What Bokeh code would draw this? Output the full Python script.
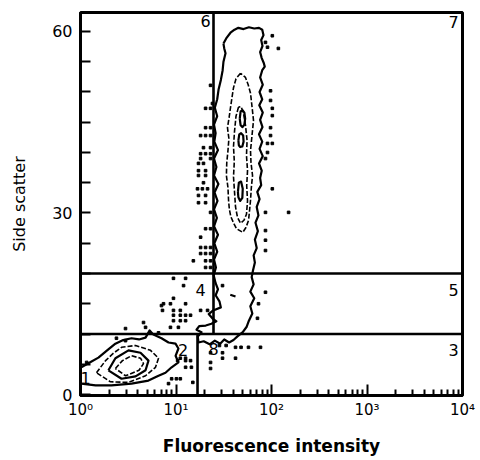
from bokeh.plotting import figure
from bokeh.models import Range1d, FixedTicker
from bokeh.embed import file_html
from bokeh.resources import INLINE
from bokeh.core.properties import value

# ---------------- data ----------------
# gate lines (fluorescence, side scatter)
gate_x0 = [1, 1, 16.8, 24.7]
gate_y0 = [20, 10, 0, 10]
gate_x1 = [10000, 10000, 16.8, 24.7]
gate_y1 = [20, 10, 10, 63.2]

# region numbers
region_text = ["1", "2", "3", "4", "5", "6", "7", "8"]
region_x = [1.13, 11.9, 8050, 18.1, 8050, 20.4, 8050, 24.7]
region_y = [2.8, 7.3, 7.3, 17.2, 17.2, 61.8, 61.5, 7.6]

# upper (tall) population - outer contour
tall_outer_x = [31.4, 34.0, 37.2, 41.0, 45.0, 51.0, 58.0, 66.0, 74.0, 80.0, 82.5, 78.0, 80.5, 76.0,
                79.0, 83.0, 85.0, 80.0, 76.0, 81.0, 75.0, 80.0, 74.5, 81.0, 76.0, 80.5, 74.0, 80.0,
                75.0, 81.0, 74.0, 79.0, 76.0, 78.0, 71.0, 75.0, 70.0, 73.0, 68.0, 72.0, 67.0, 70.0,
                65.0, 67.0, 64.0, 62.0, 65.0, 60.0, 66.0, 60.0, 63.0, 58.0, 55.0, 50.0, 44.0, 40.0,
                36.0, 32.0, 29.0, 25.5, 22.5, 19.5, 17.2, 16.9, 18.5, 16.4, 17.5, 20.5, 23.5, 26.5,
                24.0, 22.0, 24.5, 29.5, 28.5, 26.0, 27.5, 26.0, 24.8, 26.2, 25.0, 27.0, 25.2, 27.5,
                25.0, 26.8, 25.0, 27.2, 25.3, 27.8, 25.0, 26.5, 25.0, 27.5, 25.2, 26.0, 25.0, 27.0,
                25.5, 27.0, 27.9, 29.5, 30.8, 31.4, 33.0, 32.0, 31.4]
tall_outer_y = [58.0, 59.0, 59.8, 60.3, 60.6, 60.4, 60.7, 60.5, 60.6, 60.3, 59.4, 58.6, 57.6, 56.6,
                55.6, 54.8, 54.2, 53.6, 52.4, 51.2, 50.0, 48.8, 47.8, 46.6, 45.4, 44.2, 43.0, 41.8,
                40.6, 39.4, 38.2, 37.0, 35.8, 34.6, 33.5, 32.3, 31.0, 29.6, 28.4, 27.0, 25.6, 24.2,
                23.0, 21.8, 20.5, 19.4, 18.2, 17.0, 15.9, 14.6, 13.4, 12.2, 11.2, 10.3, 9.6, 9.0,
                8.6, 9.1, 8.4, 8.9, 8.3, 8.8, 8.6, 9.6, 10.3, 10.7, 11.3, 11.4, 11.7, 12.1,
                12.6, 13.3, 13.9, 14.4, 15.4, 16.4, 17.4, 18.4, 19.7, 21.0, 22.3, 23.6, 25.0, 26.4,
                27.8, 29.2, 30.6, 32.0, 33.4, 34.8, 36.2, 37.6, 39.0, 40.4, 41.8, 43.2, 44.6, 46.0,
                47.4, 48.8, 50.4, 52.0, 53.6, 55.0, 56.4, 57.2, 58.0]

# upper population - second contour (dashed)
tall_c2_x = [47.4, 42.5, 40.0, 38.5, 37.2, 36.0, 34.6, 35.8, 35.0, 34.0, 33.7, 35.0, 35.5, 36.2,
             37.5, 40.5, 43.0, 50.0, 54.0, 57.5, 59.0, 60.3, 61.5, 63.3, 61.0, 60.3, 62.5, 64.8,
             62.5, 60.3, 57.0, 53.4, 47.4]
tall_c2_y = [53.1, 52.2, 50.7, 49.0, 47.4, 45.8, 44.1, 42.3, 40.3, 38.3, 36.2, 34.2, 32.1, 30.6,
             29.4, 28.2, 27.4, 26.8, 27.6, 28.8, 30.5, 32.1, 34.2, 36.2, 38.3, 40.3, 42.8, 45.3,
             47.6, 49.8, 51.2, 52.4, 53.1]

# upper population - third contour (dashed)
tall_c3_x = [45.1, 42.5, 41.0, 40.0, 40.8, 40.0, 41.0, 42.0, 44.0, 47.4, 51.5, 54.7, 56.1, 55.0,
             56.1, 54.7, 55.5, 53.4, 51.0, 48.0, 45.1]
tall_c3_y = [47.5, 46.0, 43.5, 41.0, 38.5, 36.0, 33.5, 31.0, 29.3, 28.3, 28.8, 29.8, 32.0, 34.5,
             37.0, 39.5, 42.0, 44.5, 46.5, 47.6, 47.5]

# upper population - small inner loops
loop_a_x = [46.5, 47.5, 49.7, 52.0, 53.0, 52.0, 49.7, 47.5, 46.5]
loop_a_y = [45.6, 46.8, 47.0, 46.6, 45.6, 44.6, 44.2, 44.5, 45.6]
loop_b_x = [45.0, 46.0, 48.0, 50.5, 51.0, 49.5, 47.0, 45.5, 45.0]
loop_b_y = [42.0, 43.0, 43.2, 42.8, 41.8, 41.0, 40.9, 41.2, 42.0]
loop_c_x = [44.5, 45.5, 48.0, 50.0, 49.5, 47.0, 45.0, 44.5]
loop_c_y = [33.5, 35.0, 35.2, 34.0, 32.5, 32.0, 32.6, 33.5]
dash_x = [37.0, 42.0]
dash_y = [16.5, 16.2]

# lower-left population contours
low_outer_x = [1.0, 1.02, 1.25, 1.54, 1.9, 2.32, 2.8, 3.42, 4.1, 4.8, 5.3, 5.8, 6.1, 7.05, 8.35,
               9.88, 10.6, 9.9, 10.6, 9.0, 7.76, 6.56, 5.15, 3.42, 2.11, 1.44, 1.02, 1.0]
low_outer_y = [4.5, 4.5, 5.3, 6.1, 7.3, 8.4, 9.0, 9.3, 9.1, 9.4, 10.6, 9.9, 9.75, 9.3, 8.6,
               8.4, 7.6, 6.4, 5.3, 4.5, 3.6, 3.1, 2.3, 1.8, 1.5, 1.5, 1.8, 1.8]
low_c2_x = [1.47, 1.83, 2.2, 2.69, 3.77, 5.41, 6.56, 6.1, 4.8, 3.18, 2.06, 1.47]
low_c2_y = [3.6, 5.6, 6.8, 7.8, 8.1, 7.3, 6.0, 4.5, 3.1, 2.0, 2.1, 3.6]
low_c3_x = [1.96, 2.32, 3.18, 4.25, 5.15, 4.8, 3.77, 2.69, 1.96]
low_c3_y = [4.0, 6.0, 7.3, 6.9, 5.6, 4.0, 3.0, 2.6, 4.0]
low_c4_x = [2.32, 2.75, 3.42, 4.25, 4.57, 4.1, 2.96, 2.32]
low_c4_y = [4.3, 5.6, 6.4, 6.0, 5.1, 4.0, 3.1, 4.3]

# scattered single events
dot_x = [23.0, 20.4, 23.0, 24.1, 23.0, 20.4, 18.1, 20.4, 23.0, 19.4, 23.0, 18.1, 20.4, 23.0,
         18.1, 23.0, 17.2, 19.4, 17.2, 20.4, 17.2, 20.4, 19.4, 16.8, 18.9, 21.4, 17.2, 20.4,
         17.2, 20.4, 23.0, 20.4, 23.0, 18.1, 18.1, 20.4, 23.0, 18.1, 20.4, 23.0, 15.2, 20.4,
         23.0, 20.4, 23.0,
         102, 90.8, 118, 86.5, 97.7, 97.7, 102, 102, 97.7, 97.7, 90.8, 102, 90.8, 86.5, 102,
         86.5, 151, 86.5, 86.5, 86.5,
         30.7, 86.5, 73.1, 71.3,
         9.41, 12.6, 12.0, 9.41, 12.6, 7.22, 9.41, 11.1, 18.1, 21.4, 9.41, 11.1, 12.6, 14.2,
         9.41, 11.1, 12.6, 4.57, 8.75, 10.6, 2.96, 4.8, 6.56, 7.4, 8.75, 7.05,
         2.38, 2.96, 11.1, 12.6, 12.6, 14.5, 9.0, 10.1, 11.1, 8.35, 1.16, 10.4, 12.6, 14.2, 15.0,
         28.5, 33.5, 42.0, 48.0, 57.4, 76.7, 23.0, 30.7, 30.7, 42.0, 23.0, 23.0]
dot_y = [51.1, 47.3, 47.3, 48.1, 44.1, 44.1, 42.8, 42.8, 42.8, 40.8, 40.8, 39.8, 39.8, 39.8,
         39.0, 39.0, 38.2, 38.2, 37.0, 37.0, 36.2, 36.2, 35.0, 34.0, 34.0, 34.0, 32.9, 32.9,
         31.7, 31.7, 30.1, 27.4, 27.4, 26.0, 24.3, 24.3, 24.3, 23.3, 23.3, 23.3, 22.1, 22.1,
         22.1, 21.0, 21.0,
         59.3, 57.4, 57.2, 58.2, 50.2, 48.6, 47.3, 46.1, 44.1, 42.8, 41.5, 41.5, 40.0, 39.0, 34.0,
         30.1, 30.1, 27.1, 25.5, 23.8,
         18.0, 16.9, 15.0, 12.6,
         19.2, 19.2, 18.0, 15.9, 15.0, 13.9, 13.9, 13.9, 13.9, 13.9, 13.1, 13.1, 13.1, 13.1,
         12.2, 12.2, 12.2, 11.9, 11.1, 11.1, 10.9, 11.1, 10.2, 15.0, 15.0, 14.7,
         9.3, 8.9, 6.0, 6.0, 4.5, 4.5, 2.6, 2.6, 2.6, 1.8, 5.3, 5.6, 5.6, 5.6, 2.0,
         8.1, 8.1, 7.8, 7.8, 7.8, 7.8, 6.9, 6.9, 6.0, 6.0, 5.3, 4.3]

# axes
x_ticks = [1, 10, 100, 1000, 10000]
x_tick_labels = ["10⁰", "10¹", "10²", "10³", "10⁴"]
y_ticks = [0, 30, 60]
y_minor = [5, 10, 15, 20, 25, 35, 40, 45, 50, 55]
x_minor = [m * d for d in (1, 10, 100, 1000) for m in range(2, 10)]

# ---------------- figure ----------------
FONT = "DejaVu Sans"
p = figure(width=480, height=460, x_axis_type="log",
           x_range=Range1d(1, 10000), y_range=Range1d(-0.165, 63.14),
           output_backend="svg", toolbar_location=None,
           min_border_left=80, min_border_right=18, min_border_top=12, min_border_bottom=65)
p.xgrid.visible = False
p.ygrid.visible = False
p.outline_line_color = "black"
p.outline_line_width = 3
p.outline_line_alpha = 1
p.background_fill_color = "white"
p.border_fill_color = "white"

# gates
p.segment(x0=gate_x0, y0=gate_y0, x1=gate_x1, y1=gate_y1, line_color="black", line_width=2.6)

# contours
solid_xs = [tall_outer_x, low_outer_x, low_c3_x, loop_a_x, loop_b_x, loop_c_x, dash_x]
solid_ys = [tall_outer_y, low_outer_y, low_c3_y, loop_a_y, loop_b_y, loop_c_y, dash_y]
p.multi_line(xs=solid_xs, ys=solid_ys, line_color="black", line_width=2.2, line_join="round")
dashed_xs = [tall_c2_x, tall_c3_x, low_c2_x, low_c4_x]
dashed_ys = [tall_c2_y, tall_c3_y, low_c2_y, low_c4_y]
p.multi_line(xs=dashed_xs, ys=dashed_ys, line_color="black", line_width=1.6, line_dash="5 2")

# events
p.scatter(x=dot_x, y=dot_y, size=2.6, marker="square", color="black")

# region numbers
p.text(x=region_x, y=region_y, text=region_text, text_align="center", text_baseline="middle",
       text_font=value(FONT), text_font_size="16px", text_color="black")

# axes styling
p.xaxis.ticker = FixedTicker(ticks=x_ticks, minor_ticks=x_minor)
p.xaxis.major_label_overrides = dict(zip(x_ticks, x_tick_labels))
p.yaxis.ticker = FixedTicker(ticks=y_ticks, minor_ticks=y_minor)

for ax in (p.xaxis[0], p.yaxis[0]):
    ax.axis_line_width = 3
    ax.axis_line_color = "black"
    ax.major_tick_out = 0
    ax.minor_tick_out = 0
    ax.major_tick_line_width = 2
    ax.minor_tick_line_width = 2
    ax.major_label_text_font = FONT
    ax.major_label_text_color = "black"
    ax.axis_label_text_font = FONT
    ax.axis_label_text_color = "black"

p.xaxis.major_tick_in = 11
p.xaxis.minor_tick_in = 6
p.xaxis.major_label_standoff = 5
p.xaxis.major_label_text_font_size = "15px"
p.xaxis.axis_label = "Fluorescence intensity"
p.xaxis.axis_label_text_font_style = "bold"
p.xaxis.axis_label_text_font_size = "17px"
p.xaxis.axis_label_standoff = 14

p.yaxis.major_tick_in = 10
p.yaxis.minor_tick_in = 10
p.yaxis.major_label_standoff = 8
p.yaxis.major_label_text_font_size = "16px"
p.yaxis.axis_label = "Side scatter"
p.yaxis.axis_label_text_font_style = "normal"
p.yaxis.axis_label_text_font_size = "16px"
p.yaxis.axis_label_standoff = 20

open("out.html", "w").write(file_html(p, INLINE))
